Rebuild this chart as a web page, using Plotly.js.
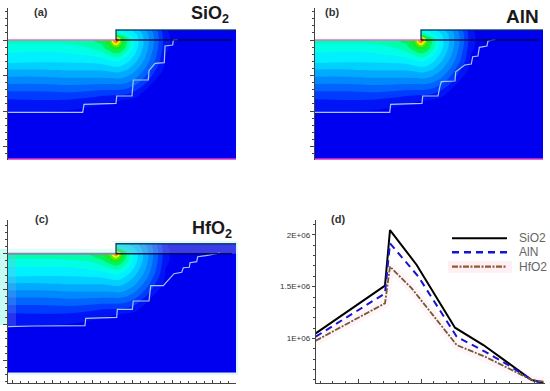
<!DOCTYPE html>
<html><head><meta charset="utf-8">
<script src="https://cdn.plot.ly/plotly-3.0.1.min.js"></script>
<style>html,body{margin:0;padding:0;background:#fff}#c{width:550px;height:391px}</style>
</head><body><div id="c"></div>
<script>
// ---- field maps (a)(b)(c): horizontal distance, depth, normalised field ----
const xGridA = [0,32,62,82,94,102,106,108,110,114,120,128,138,148,158,168,178,228];
const xGridB = [0,32,60,80,92,100,104,106,108,112,118,126,136,146,156,166,176,228];
const yGrid  = [-10,-5,-1,1,4,8,14,20,30,40,50,60,70,76,90,119];
const zSiO2 = [
[.58,.58,.58,.60,.62,.66,.70,.50,.49,.47,.44,.39,.29,.18,.035,0,0,0],
[.58,.58,.58,.60,.62,.68,.72,.62,.60,.56,.50,.43,.32,.195,.045,0,0,0],
[.58,.58,.58,.60,.64,.74,.92,1,.92,.74,.60,.45,.325,.20,.05,0,0,0],
[.58,.58,.58,.60,.64,.74,.92,.98,.92,.74,.60,.45,.325,.20,.05,0,0,0],
[.54,.54,.55,.57,.62,.72,.82,.86,.82,.72,.59,.45,.325,.195,.048,0,0,0],
[.51,.51,.52,.55,.59,.67,.71,.71,.71,.67,.57,.44,.315,.19,.043,0,0,0],
[.48,.47,.48,.50,.53,.57,.60,.60,.60,.57,.50,.41,.295,.17,.03,0,0,0],
[.45,.44,.44,.45,.46,.49,.50,.50,.50,.485,.44,.37,.27,.15,.02,0,0,0],
[.35,.35,.36,.36,.36,.37,.38,.38,.38,.37,.35,.295,.205,.09,.004,0,0,0],
[.26,.26,.27,.27,.27,.27,.27,.275,.275,.27,.25,.21,.125,.025,0,0,0,0],
[.17,.17,.18,.17,.16,.16,.16,.16,.16,.155,.14,.10,.025,0,0,0,0,0],
[.09,.095,.09,.07,.05,.04,.035,.035,.035,.03,.024,.007,0,0,0,0,0,0],
[.04,.04,.03,.012,.005,.002,0,0,0,0,0,0,0,0,0,0,0,0],
[.015,.012,.005,0,0,0,0,0,0,0,0,0,0,0,0,0,0,0],
[0,0,0,0,0,0,0,0,0,0,0,0,0,0,0,0,0,0],
[0,0,0,0,0,0,0,0,0,0,0,0,0,0,0,0,0,0]];
const zAlN = [
[.58,.58,.58,.60,.62,.66,.70,.50,.49,.47,.44,.39,.30,.19,.04,0,0,0],
[.58,.58,.58,.60,.62,.68,.72,.62,.60,.56,.50,.43,.33,.205,.05,0,0,0],
[.58,.58,.58,.60,.64,.74,.92,1,.92,.74,.60,.45,.33,.21,.055,0,0,0],
[.58,.58,.58,.60,.64,.74,.92,.98,.92,.74,.60,.45,.33,.21,.055,0,0,0],
[.54,.54,.55,.57,.62,.72,.82,.86,.82,.72,.59,.45,.33,.205,.05,0,0,0],
[.51,.51,.52,.55,.59,.67,.71,.71,.71,.67,.57,.44,.32,.195,.045,0,0,0],
[.48,.47,.48,.50,.53,.57,.60,.60,.60,.57,.50,.41,.30,.175,.03,0,0,0],
[.45,.44,.44,.45,.46,.49,.50,.50,.50,.485,.44,.37,.27,.155,.02,0,0,0],
[.35,.35,.36,.36,.36,.37,.38,.38,.38,.37,.35,.295,.205,.09,.004,0,0,0],
[.26,.26,.27,.27,.27,.27,.27,.275,.275,.27,.25,.21,.125,.025,0,0,0,0],
[.17,.17,.18,.17,.16,.16,.16,.16,.16,.155,.14,.10,.025,0,0,0,0,0],
[.09,.095,.09,.07,.05,.04,.035,.035,.035,.03,.024,.007,0,0,0,0,0,0],
[.04,.04,.03,.012,.005,.002,0,0,0,0,0,0,0,0,0,0,0,0],
[.015,.012,.005,0,0,0,0,0,0,0,0,0,0,0,0,0,0,0],
[0,0,0,0,0,0,0,0,0,0,0,0,0,0,0,0,0,0],
[0,0,0,0,0,0,0,0,0,0,0,0,0,0,0,0,0,0]];
const zHfO2 = [
[.58,.58,.58,.60,.62,.66,.70,.48,.47,.45,.42,.37,.28,.17,.035,0,0,0],
[.58,.58,.58,.60,.62,.68,.72,.60,.58,.54,.48,.41,.31,.185,.045,0,0,0],
[.59,.59,.60,.62,.68,.76,.88,.96,.88,.72,.58,.44,.32,.19,.05,0,0,0],
[.59,.59,.60,.62,.68,.76,.88,.94,.88,.72,.58,.44,.32,.19,.05,0,0,0],
[.56,.56,.57,.59,.64,.72,.80,.82,.78,.70,.57,.44,.32,.185,.048,0,0,0],
[.52,.52,.53,.55,.59,.65,.69,.69,.68,.64,.55,.43,.31,.18,.043,0,0,0],
[.48,.48,.48,.50,.52,.55,.57,.58,.57,.55,.49,.40,.29,.165,.03,0,0,0],
[.45,.44,.44,.45,.46,.48,.49,.49,.49,.47,.43,.36,.265,.145,.02,0,0,0],
[.35,.35,.36,.36,.36,.37,.38,.38,.38,.37,.34,.29,.20,.09,.004,0,0,0],
[.26,.26,.27,.27,.27,.27,.27,.275,.275,.27,.25,.205,.12,.025,0,0,0,0],
[.17,.17,.18,.17,.16,.16,.16,.16,.16,.155,.14,.10,.025,0,0,0,0,0],
[.09,.095,.09,.07,.05,.04,.035,.035,.035,.03,.024,.007,0,0,0,0,0,0],
[.04,.04,.03,.012,.005,.002,0,0,0,0,0,0,0,0,0,0,0,0],
[.015,.012,.005,0,0,0,0,0,0,0,0,0,0,0,0,0,0,0],
[0,0,0,0,0,0,0,0,0,0,0,0,0,0,0,0,0,0],
[0,0,0,0,0,0,0,0,0,0,0,0,0,0,0,0,0,0]];
const fieldColors = [[0,'#0000f0'],[.1,'#0038ff'],[.2,'#0070ff'],[.3,'#00a0ff'],[.4,'#00d4ff'],[.5,'#00ffff'],[.6,'#00ffb4'],[.7,'#00f040'],[.8,'#30e800'],[.9,'#ffff00'],[1,'#ff6000']];

// ---- depletion-edge contour lines ----
const edgeAx = [0,74.7,76,108,108.7,124,125.3,140.3,141,147,156.3,157,164.7,165.3,169.7];
const edgeAy = [72.3,72.3,64.3,63.3,56,56,40,40,30.7,23.3,22.7,6,5,0,-0.3];
const edgeBx = [0,74.7,75.7,90.7,107,107.7,123,124.7,126.3,140,140.7,149.7,156.3,157.7,163,164.3,172,173,180.3];
const edgeBy = [72.3,72.3,64.3,64,63.3,56,56,47.3,41.7,41,31.7,25,24,16.7,16,7.3,6,1,-0.3];
const edgeCx = [0,25.3,77,77.7,108.7,109.3,124.3,125.3,141,142.7,155.3,166,173.7,175.3,181.3,182,188.7,189.7,197.7,212];
const edgeCy = [73,72.3,72,64.6,63.6,55.6,55.6,47.3,47.3,32,32,20,18.6,14,13.6,9,8,3,2,-0.7];

// ---- panel (d) profiles ----
const profileNames = ['SiO2','AlN','HfO2'];
const profileX = {
 SiO2:[0,69.3,74.3,101,139.3,167.7,189.3,216,227.7],
 AlN:[0,69.3,74.3,102.7,141,169.3,192.7,216,227.7],
 HfO2:[0,69.3,74.3,96,141,169.3,192.7,216,227.7]};
const profileSiO2 = [1048000,1510000,2048000,1710000,1103000,935000,784000,597000,571000];
const profileAlN  = [1016000,1435000,1919000,1597000,1016000,871000,742000,597000,565000];
const profileHfO2 = [977000,1339000,1694000,1484000,935000,823000,710000,597000,581000];
const dTicks = [1000000,1500000,2000000];
const dTickText = ['1E+06','1.5E+06','2E+06'];

const W=550,H=391;
const px=v=>v/W, py=v=>1-v/H;
const traces=[];
function map(i,xg,z,ex,ey,corner,opt){
  const xa=i===1?'x':'x'+i, ya=i===1?'y':'y'+i;
  traces.push({type:'contour',x:xg,y:yGrid,z:z,xaxis:xa,yaxis:ya,zauto:false,zmin:0,zmax:1,colorscale:fieldColors,showscale:false,
    contours:{coloring:'fill',start:.03,end:1,size:.065,showlines:false},line:{width:0,smoothing:1},hoverinfo:'skip'});
  traces.push({x:[0,corner,corner,0,0],y:[-12,-12,0,0,-12],xaxis:xa,yaxis:ya,mode:'none',fill:'toself',fillcolor:opt.notch,hoverinfo:'skip',showlegend:false});
  (opt.overlays||[]).forEach(o=>traces.push({x:o.x,y:o.y,xaxis:xa,yaxis:ya,mode:'none',fill:'toself',fillcolor:o.c,hoverinfo:'skip',showlegend:false}));
  traces.push({x:ex,y:ey,xaxis:xa,yaxis:ya,mode:'lines',line:{color:'#a8c4f0',width:1.2},hoverinfo:'skip',showlegend:false});
  traces.push({x:[0,corner],y:[0,0],xaxis:xa,yaxis:ya,mode:'lines',line:{color:opt.surf,width:opt.surfW},hoverinfo:'skip',showlegend:false});
  if(opt.bottom) traces.push({x:[0,228],y:[119,119],xaxis:xa,yaxis:ya,mode:'lines',line:{color:opt.bottom,width:1.5},hoverinfo:'skip',showlegend:false});
  traces.push({x:[corner,corner,228],y:[0,-10,-10],xaxis:xa,yaxis:ya,mode:'lines',line:{color:'rgba(0,45,90,.85)',width:1.4},hoverinfo:'skip',showlegend:false});
  traces.push({x:[corner,224],y:[0,0],xaxis:xa,yaxis:ya,mode:'lines',line:{color:'rgba(0,10,70,.9)',width:1.5},hoverinfo:'skip',showlegend:false});
}
map(1,xGridA,zSiO2,edgeAx,edgeAy,108,{notch:'#fff',surf:'#e070c8',surfW:1.5,bottom:'#e030c8'});
map(2,xGridB,zAlN,edgeBx,edgeBy,106,{notch:'#fff',surf:'#e070c8',surfW:1.5,bottom:'#e030c8'});
map(3,xGridA,zHfO2,edgeCx,edgeCy,108,{notch:'#fff',surf:'#8a86b4',surfW:2,
  overlays:[{x:[0,108,108,0,0],y:[-5,-5,0,0,-5],c:'#e2fdf8'},
            {x:[108,228,228,108,108],y:[-10,-10,0,0,-10],c:'rgba(170,175,215,.35)'},
            {x:[0,8,8,0,0],y:[0,0,72,72,0],c:'rgba(170,170,215,.22)'}]});

// panel d: pale halo under the curves, then the curves
traces.push({x:profileX.HfO2,y:profileHfO2,xaxis:'x4',yaxis:'y4',mode:'lines',line:{color:'#fff4f7',width:9},hoverinfo:'skip',showlegend:false});
const dStyle={SiO2:{color:'#000',width:2},AlN:{color:'#1414d2',width:2,dash:'7px,5px'},HfO2:{color:'#6f5a38',width:1.8,dash:'6px,1.5px,2px,1.5px'}};
const dVals={SiO2:profileSiO2,AlN:profileAlN,HfO2:profileHfO2};
profileNames.forEach(n=>traces.push({x:profileX[n],y:dVals[n],name:n,xaxis:'x4',yaxis:'y4',mode:'lines',line:dStyle[n],showlegend:false}));

const tk='#444';
function mapY(dom,range){return {domain:[py(dom[1]),py(dom[0])],range:range,showgrid:false,zeroline:false,showline:true,linecolor:tk,linewidth:1,
  ticks:'outside',ticklen:4,tickcolor:tk,tickwidth:1,tick0:0,dtick:35.5,showticklabels:false,minor:{ticks:'outside',ticklen:2,dtick:7.1,tick0:0,tickcolor:tk,showgrid:false}};}
const hidden=d=>({domain:d,range:[0,228],visible:false});
const layout={width:W,height:H,autosize:false,margin:{l:0,r:0,t:0,b:0},paper_bgcolor:'#fff',plot_bgcolor:'rgba(0,0,0,0)',showlegend:false,
 font:{family:'Liberation Sans, Arial, sans-serif'},
 xaxis:Object.assign(hidden([px(8),px(236)]),{anchor:'y'}),
 yaxis:Object.assign(mapY([8,160],[120,-32]),{anchor:'x'}),
 xaxis2:Object.assign(hidden([px(315),px(543)]),{anchor:'y2'}),
 yaxis2:Object.assign(mapY([8,160],[120,-32]),{anchor:'x2'}),
 xaxis3:{domain:[px(8),px(236)],range:[0,228],anchor:'y3',showgrid:false,zeroline:false,showline:true,linecolor:tk,ticks:'inside',ticklen:3,tickcolor:tk,tick0:4,dtick:40,showticklabels:false,minor:{ticks:'inside',ticklen:2,dtick:8,tick0:4,tickcolor:tk,showgrid:false}},
 yaxis3:Object.assign(mapY([220,383.3],[129.6,-33.7]),{anchor:'x3'}),
 xaxis4:{domain:[px(315.7),px(545)],range:[0,229.3],anchor:'y4',showgrid:false,zeroline:false,showline:true,linecolor:tk,ticks:'inside',ticklen:4,tickcolor:tk,tick0:42.3,dtick:63,showticklabels:false,minor:{ticks:'inside',ticklen:2,dtick:12.6,tick0:42.3,tickcolor:tk,showgrid:false}},
 yaxis4:{domain:[py(383.3),py(220)],range:[565000,2145000],anchor:'x4',showgrid:false,zeroline:false,showline:true,linecolor:tk,ticks:'outside',ticklen:3,tickcolor:tk,tickmode:'array',tickvals:dTicks,ticktext:dTickText,tickfont:{size:8,color:'#333'},minor:{ticks:'outside',ticklen:1.5,dtick:100000,tickcolor:tk,showgrid:false}},
 shapes:[
  // pale halos around panel (c)
  {type:'rect',xref:'paper',yref:'paper',x0:px(0),x1:px(8),y0:py(325),y1:py(249),fillcolor:'#c6fbf6',line:{width:0},layer:'below'},
  {type:'rect',xref:'paper',yref:'paper',x0:px(112),x1:px(238),y0:py(244),y1:py(241),fillcolor:'#dcfbf8',line:{width:0},layer:'below'},
  {type:'rect',xref:'paper',yref:'paper',x0:px(236),x1:px(238),y0:py(375),y1:py(241),fillcolor:'#dcfbf8',line:{width:0},layer:'below'},
  {type:'rect',xref:'paper',yref:'paper',x0:px(8),x1:px(238),y0:py(375),y1:py(373),fillcolor:'#dcfbf8',line:{width:0},layer:'below'},
  // legend samples of panel (d)
  {type:'rect',xref:'paper',yref:'paper',x0:px(448),x1:px(512),y0:py(273),y1:py(261),fillcolor:'#fdeff3',line:{width:0},layer:'below'},
  {type:'line',xref:'paper',yref:'paper',x0:px(452),x1:px(507),y0:py(238.3),y1:py(238.3),line:{color:'#000',width:2}},
  {type:'line',xref:'paper',yref:'paper',x0:px(452),x1:px(507),y0:py(252.3),y1:py(252.3),line:{color:'#1414d2',width:2.4,dash:'7px,5px'}},
  {type:'line',xref:'paper',yref:'paper',x0:px(452),x1:px(507),y0:py(266.7),y1:py(266.7),line:{color:'#8f5a34',width:2.2,dash:'6px,1.5px,2px,1.5px'}}
 ],
 annotations:[]};
function note(text,x,y,size,color,bold,anchor){layout.annotations.push({xref:'paper',yref:'paper',x:px(x),y:py(y),text:bold?'<b>'+text+'</b>':text,showarrow:false,xanchor:anchor||'left',yanchor:'middle',align:'left',borderpad:0,font:{size:size,color:color,family:'Liberation Sans, Arial, sans-serif'}});}
note('(a)',32.7,12.3,11,'#333',true);
note('(b)',323.7,12.3,11,'#333',true);
note('(c)',33.7,219,11,'#333',true);
note('(d)',329.7,219,11,'#333',true);
note('SiO<sub>2</sub>',190,15,18,'#1a1a1a',true);
note('AlN',505,16,19,'#1a1a1a',true);
note('HfO<sub>2</sub>',191,229,18,'#1a1a1a',true);
profileNames.forEach((n,i)=>note(n,517.7,[238.3,252.3,266.7][i],12,'#666',false));
Plotly.newPlot('c',traces,layout,{displayModeBar:false,staticPlot:true});
</script></body></html>
